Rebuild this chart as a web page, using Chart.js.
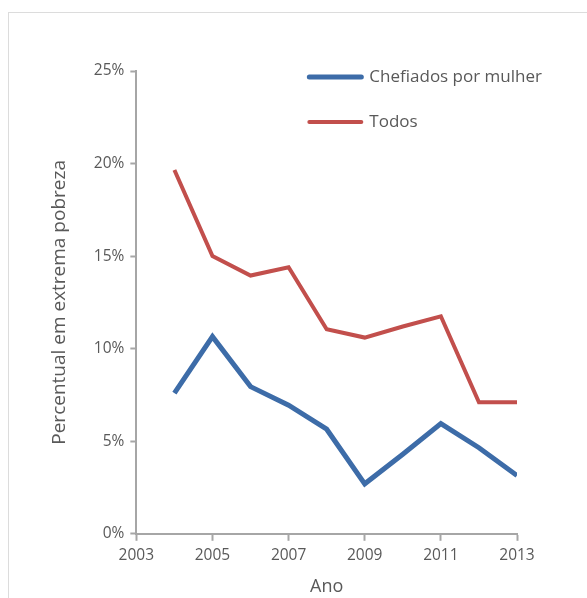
<!DOCTYPE html>
<html>
<head>
<meta charset="utf-8">
<script src="https://cdn.jsdelivr.net/npm/chart.js@4.4.0/dist/chart.umd.min.js"></script>
<style>
  html, body { margin: 0; padding: 0; background: #fff; }
  #card { position: absolute; left: 8px; top: 12px; width: 700px; height: 700px; border: 1.5px solid #dcdcdc; }
  #wrap { position: absolute; left: 0; top: 0; width: 587px; height: 598px; }
</style>
</head>
<body>
<div id="card"></div>
<div id="wrap"><canvas id="myChart"></canvas></div>
<script>
// anos e percentuais
const anos = [2004, 2005, 2006, 2007, 2008, 2009, 2010, 2011, 2012, 2013];
const chefiadosMulher = [7.6, 10.65, 7.95, 6.95, 5.65, 2.7, 4.3, 5.95, 4.65, 3.15];
const todos = [19.65, 15.0, 13.95, 14.4, 11.05, 10.6, 11.2, 11.75, 7.1, 7.1];
const nomes = ['Chefiados por mulher', 'Todos'];
const cores = ['#3d6ca8', '#c24f4c'];
const yTicks = [0, 5, 10, 15, 20, 25];
const xTicks = [2003, 2005, 2007, 2009, 2011, 2013];

const fonte = "'Open Sans', 'Noto Sans', sans-serif";
const cinza = '#595959';

function pts(vals) {
    return anos.map((a, i) => ({ x: a, y: vals[i] }));
}

// legenda desenhada dentro da area do grafico
const legendaInterna = {
    id: 'legendaInterna',
    afterDraw(chart) {
        const ctx = chart.ctx;
        const area = chart.chartArea;
        const x0 = area.left + 173;
        let y = area.top + 6;
        ctx.save();
        chart.data.datasets.forEach(ds => {
            ctx.strokeStyle = ds.borderColor;
            ctx.lineWidth = ds.borderWidth;
            ctx.lineCap = 'round';
            ctx.beginPath();
            ctx.moveTo(x0, y);
            ctx.lineTo(x0 + 52, y);
            ctx.stroke();
            ctx.fillStyle = cinza;
            ctx.font = '17px ' + fonte;
            ctx.textBaseline = 'middle';
            ctx.textAlign = 'left';
            ctx.fillText(ds.label, x0 + 60, y);
            y += 45;
        });
        ctx.restore();
    }
};

const ctx = document.getElementById('myChart').getContext('2d');
const chart = new Chart(ctx, {
    type: 'line',
    data: {
        datasets: [
            { label: nomes[0], data: pts(chefiadosMulher), borderColor: cores[0], borderWidth: 5 },
            { label: nomes[1], data: pts(todos), borderColor: cores[1], borderWidth: 4 }
        ]
    },
    options: {
        responsive: true,
        maintainAspectRatio: false,
        animation: false,
        elements: {
            point: { radius: 0 },
            line: { tension: 0, borderCapStyle: 'butt', borderJoinStyle: 'miter', fill: false }
        },
        layout: { padding: { left: 48, right: 70, top: 71, bottom: 0 } },
        plugins: {
            legend: { display: false },
            tooltip: { enabled: false }
        },
        scales: {
            x: {
                type: 'linear',
                min: 2003,
                max: 2013,
                afterBuildTicks: s => { s.ticks = xTicks.map(v => ({ value: v })); },
                grid: { drawOnChartArea: false, drawTicks: true, tickLength: 7, tickColor: '#a6a6a6', tickWidth: 2 },
                border: { color: '#a6a6a6', width: 2 },
                ticks: { color: cinza, font: { family: fonte, size: 15.5 }, padding: 5, maxRotation: 0, callback: v => String(v) },
                title: { display: true, text: 'Ano', color: cinza, font: { family: fonte, size: 18 }, padding: { top: 7, bottom: 0 } }
            },
            y: {
                min: 0,
                max: 25,
                afterBuildTicks: s => { s.ticks = yTicks.map(v => ({ value: v })); },
                grid: { drawOnChartArea: false, drawTicks: true, tickLength: 6, tickColor: '#a6a6a6', tickWidth: 2 },
                border: { color: '#a6a6a6', width: 2 },
                ticks: { color: cinza, font: { family: fonte, size: 15.5 }, padding: 6, callback: v => v + '%' },
                title: { display: true, text: 'Percentual em extrema pobreza', color: cinza, font: { family: fonte, size: 19 }, padding: { top: 0, bottom: 17 } }
            }
        }
    },
    plugins: [legendaInterna]
});
</script>
</body>
</html>
